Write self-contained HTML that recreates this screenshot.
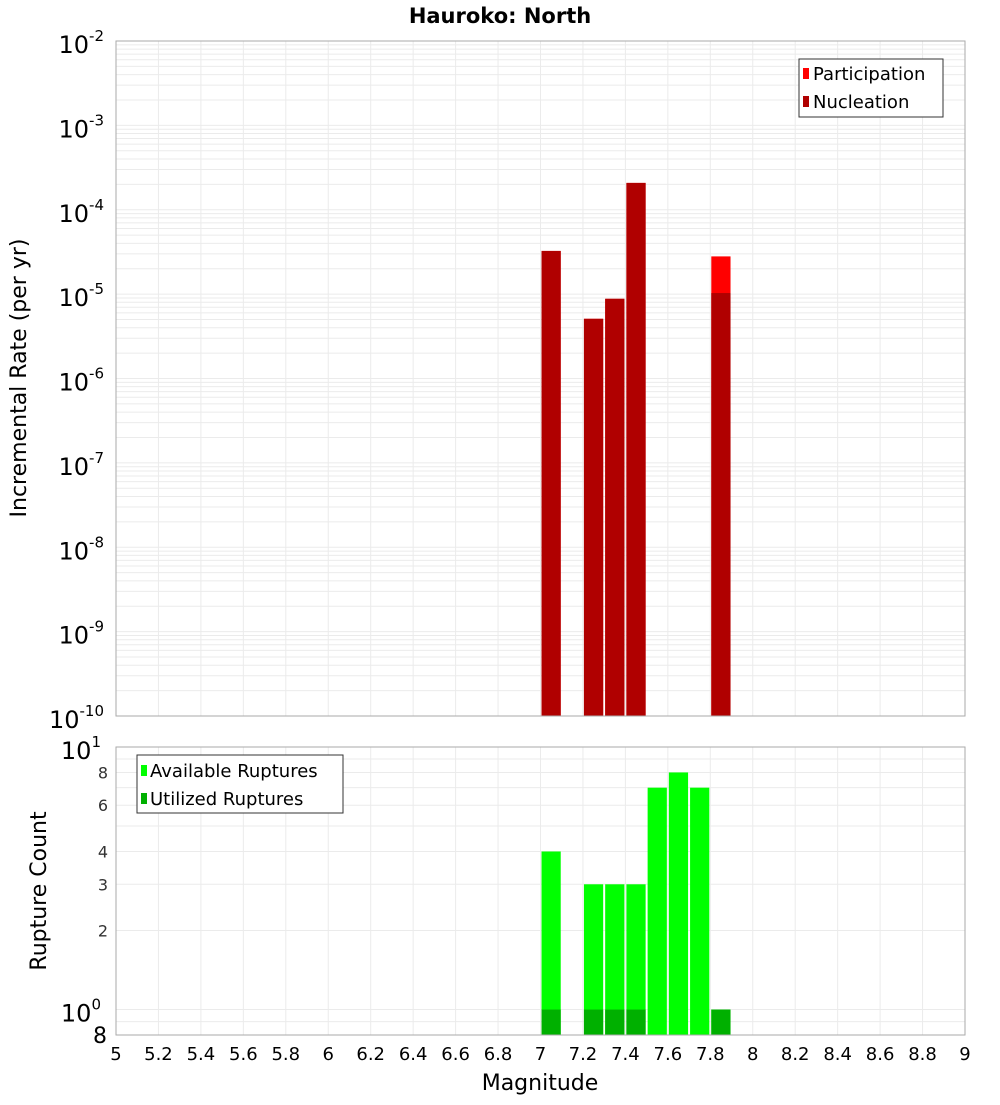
<!DOCTYPE html>
<html><head><meta charset="utf-8"><style>
body{margin:0;background:#fff;font-family:"Liberation Sans","DejaVu Sans",sans-serif}
svg text{font-family:"DejaVu Sans","Liberation Sans",sans-serif}
</style></head><body>
<svg id="c" width="1000" height="1100" xmlns="http://www.w3.org/2000/svg">
<text x="500" y="23" text-anchor="middle" font-size="21" font-weight="bold">Hauroko: North</text>
<g id="topPanel"></g>
<g id="botPanel"></g>
<text transform="translate(26,378) rotate(-90)" text-anchor="middle" font-size="22">Incremental Rate (per yr)</text>
<text transform="translate(46,891) rotate(-90)" text-anchor="middle" font-size="22">Rupture Count</text>
<text x="540" y="1090" text-anchor="middle" font-size="22">Magnitude</text>
<g>
<rect x="799" y="59" width="144" height="58" fill="#fff" stroke="#333"/>
<rect x="803" y="68" width="6" height="11" fill="#ff0000"/>
<text x="813" y="80" font-size="18">Participation</text>
<rect x="803" y="96" width="6" height="11" fill="#b00000"/>
<text x="813" y="108" font-size="18">Nucleation</text>
</g>
<g>
<rect x="137" y="755" width="206" height="58" fill="#fff" stroke="#333"/>
<rect x="141" y="765" width="6" height="11" fill="#00ff00"/>
<text x="150" y="777" font-size="18">Available Ruptures</text>
<rect x="141" y="793" width="6" height="11" fill="#00b000"/>
<text x="150" y="805" font-size="18">Utilized Ruptures</text>
</g>
</svg>
<script>
const magBins=[7.05,7.25,7.35,7.45,7.85];
const participation=[3.25e-5,5.1e-6,8.8e-6,2.08e-4,2.8e-5];
const nucleation=[3.25e-5,5.1e-6,8.8e-6,2.08e-4,1.03e-5];
const countBins=[7.05,7.25,7.35,7.45,7.55,7.65,7.75,7.85];
const available=[4,3,3,3,7,8,7,1];
const utilized=[1,1,1,1,0,0,0,1];
const xTicks=[5,5.2,5.4,5.6,5.8,6,6.2,6.4,6.6,6.8,7,7.2,7.4,7.6,7.8,8,8.2,8.4,8.6,8.8,9];
const rateExps=[-2,-3,-4,-5,-6,-7,-8,-9,-10];
const countMinor=[2,3,4,6,8];

const NS="http://www.w3.org/2000/svg";
const L=116,R=965;
const X=m=>L+(m-5)/4*(R-L);
const T0=41,T1=716;
const YT=v=>T0+(-2-Math.log10(v))/8*(T1-T0);
const B0=747,B1=1035;
const YB=v=>B0+(1-Math.log10(v))/(1-Math.log10(0.8))*(B1-B0);
function el(p,tag,a,txt){const e=document.createElementNS(NS,tag);for(const k in a)e.setAttribute(k,a[k]);if(txt!==undefined)e.textContent=txt;p.appendChild(e);return e;}
const topG=document.getElementById('topPanel'),botG=document.getElementById('botPanel');
const svgRoot=document.getElementById('c');
el(topG,'rect',{x:L,y:T0,width:R-L,height:T1-T0,fill:'#fff'});
el(botG,'rect',{x:L,y:B0,width:R-L,height:B1-B0,fill:'#fff'});
xTicks.forEach(t=>{
  const g1=el(topG,'line',{x1:X(t),x2:X(t),y1:T0,y2:T1,stroke:'#ebebeb'});
  
  
  el(botG,'line',{x1:X(t),x2:X(t),y1:B0,y2:B1,stroke:'#ebebeb'});
  const tl=el(svgRoot,'text',{x:X(t),y:1060,'text-anchor':'middle','font-size':18},String(t));
  
  
});
for(let e=-10;e<-2;e++)for(let k=1;k<10;k++){const y=YT(k*Math.pow(10,e));el(topG,'line',{x1:L,x2:R,y1:y,y2:y,stroke:'#ebebeb'});}
[0.8,0.9,1,2,3,4,5,6,7,8,9].forEach(v=>{const y=YB(v);el(botG,'line',{x1:L,x2:R,y1:y,y2:y,stroke:'#ebebeb'});});
rateExps.forEach(e=>{
  const t=el(topG,'text',{x:104,y:YT(Math.pow(10,e))+12,'text-anchor':'end','font-size':24});
  
  
  el(t,'tspan',{},'10');el(t,'tspan',{dy:-12,'font-size':15},String(e));
});
[[10,'1'],[1,'0']].forEach(([v,s])=>{
  const t=el(botG,'text',{x:101,y:YB(v)+12,'text-anchor':'end','font-size':24});
  
  
  el(t,'tspan',{},'10');el(t,'tspan',{dy:-12,'font-size':15},s);
});
countMinor.forEach(v=>{const t=el(botG,'text',{x:108,y:YB(v)+6,'text-anchor':'end','font-size':16,fill:'#333'},String(v));
  
  });
const t8=el(botG,'text',{x:107,y:YB(0.8)+8,'text-anchor':'end','font-size':22},'8');


const bw=0.1*(R-L)/4;
function bar(p,m,v,base,yf,fill,name){if(v<=0)return;const y=yf(v);
  const r=el(p,'rect',{x:X(m-0.05)+1,y:y,width:bw-2,height:base-y,fill:fill});
  
  }
magBins.forEach((m,i)=>{bar(topG,m,participation[i],T1,YT,'#ff0000','participation-bar');bar(topG,m,nucleation[i],T1,YT,'#b00000','nucleation-bar');});
countBins.forEach((m,i)=>{bar(botG,m,available[i],B1,YB,'#00ff00','available-bar');bar(botG,m,utilized[i],B1,YB,'#00b000','utilized-bar');});
el(topG,'rect',{x:L,y:T0,width:R-L,height:T1-T0,fill:'none',stroke:'#aaa'});
el(botG,'rect',{x:L,y:B0,width:R-L,height:B1-B0,fill:'none',stroke:'#aaa'});
</script>
</body></html>
